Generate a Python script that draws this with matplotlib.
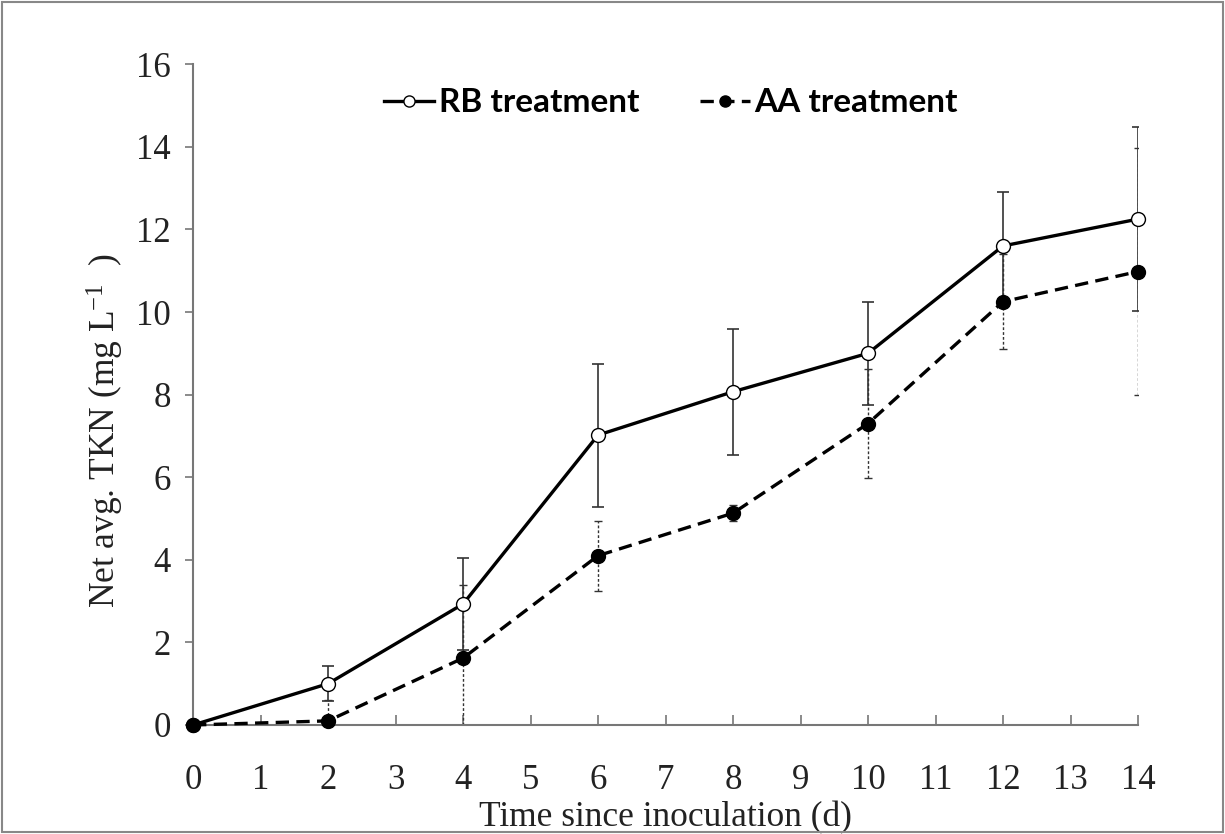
import matplotlib
matplotlib.use("Agg")
import matplotlib.pyplot as plt
from matplotlib.patches import Rectangle

days = [0, 2, 4, 6, 8, 10, 12, 14]
rb_mean = [0.0, 1.0, 2.93, 7.02, 8.07, 9.0, 11.6, 12.25]
rb_err = [0.0, 0.42, 1.12, 1.73, 1.53, 1.25, 1.3, 2.22]
aa_mean = [0.0, 0.1, 1.62, 4.1, 5.13, 7.3, 10.25, 10.98]
aa_err = [0.0, 0.5, 1.78, 0.85, 0.2, 1.33, 1.15, 3.0]
xticks = list(range(0, 15))
yticks = [0, 2, 4, 6, 8, 10, 12, 14, 16]

plt.rcParams['font.family'] = ['Liberation Serif', 'DejaVu Serif']
plt.rcParams['mathtext.default'] = 'regular'

fig = plt.figure(figsize=(12.25, 8.34), dpi=100)
ax = fig.add_axes([0.1576, 0.1307, 0.9290 - 0.1576, 0.923 - 0.1307])

aa_lo = [min(e, m) for e, m in zip(aa_err, aa_mean)]
eb2 = ax.errorbar(days, aa_mean, yerr=[aa_lo, aa_err], fmt='none', ecolor='#333333',
                  elinewidth=1.0, capsize=3, capthick=1.0, zorder=2)
for lc in eb2[2]:
    lc.set_linestyle((0, (2, 1.5)))
ax.errorbar(days, rb_mean, yerr=rb_err, fmt='none', ecolor='#333333',
            elinewidth=1.2, capsize=4, capthick=1.2, zorder=2)

l1, = ax.plot(days, rb_mean, '-', color='black', lw=2.4, marker='o', ms=10,
              mfc='white', mec='black', mew=1.0, zorder=4, label='RB treatment', clip_on=False)
l2, = ax.plot(days, aa_mean, color='black', lw=2.4, ls=(0, (4, 2.2)), marker='o', ms=10,
              mfc='black', mec='black', zorder=5, label='AA treatment', clip_on=False)

ax.set_xlim(0, 14)
ax.set_ylim(0, 16)
ax.set_xticks(xticks)
ax.set_yticks(yticks)
ax.tick_params(axis='x', direction='in', length=7, width=1.2, color='#777777', labelsize=25, pad=28)
ax.tick_params(axis='y', direction='out', length=6, width=1.2, color='#777777', labelsize=25, pad=10)
for s in ['top', 'right']:
    ax.spines[s].set_visible(False)
for s in ['left', 'bottom']:
    ax.spines[s].set_color('#777777')
    ax.spines[s].set_linewidth(1.5)
for lab in ax.get_xticklabels() + ax.get_yticklabels():
    lab.set_color('#222222')

ax.set_xlabel('Time since inoculation (d)', fontsize=25.5, labelpad=3, color='#222222')
ax.set_ylabel('Net avg. TKN (mg L$^{-1}$  )', fontsize=25.5, color='#222222')
ax.yaxis.set_label_coords(-0.071, 0.445)

leg = fig.legend(handles=[l1, l2], loc='center left', bbox_to_anchor=(0.300, 1 - 103 / 834),
                 ncol=2, frameon=False, handlelength=1.5, columnspacing=1.8, handletextpad=0.15,
                 borderpad=0, prop={'family': 'Lato', 'weight': 'bold', 'size': 24})
for h in leg.legend_handles:
    h.set_markersize(8)

fig.patches.append(Rectangle((0.002, 0.002), 0.996, 0.996, transform=fig.transFigure,
                             fill=False, edgecolor='#888888', lw=1.5))

fig.savefig('out.png', dpi=100)
